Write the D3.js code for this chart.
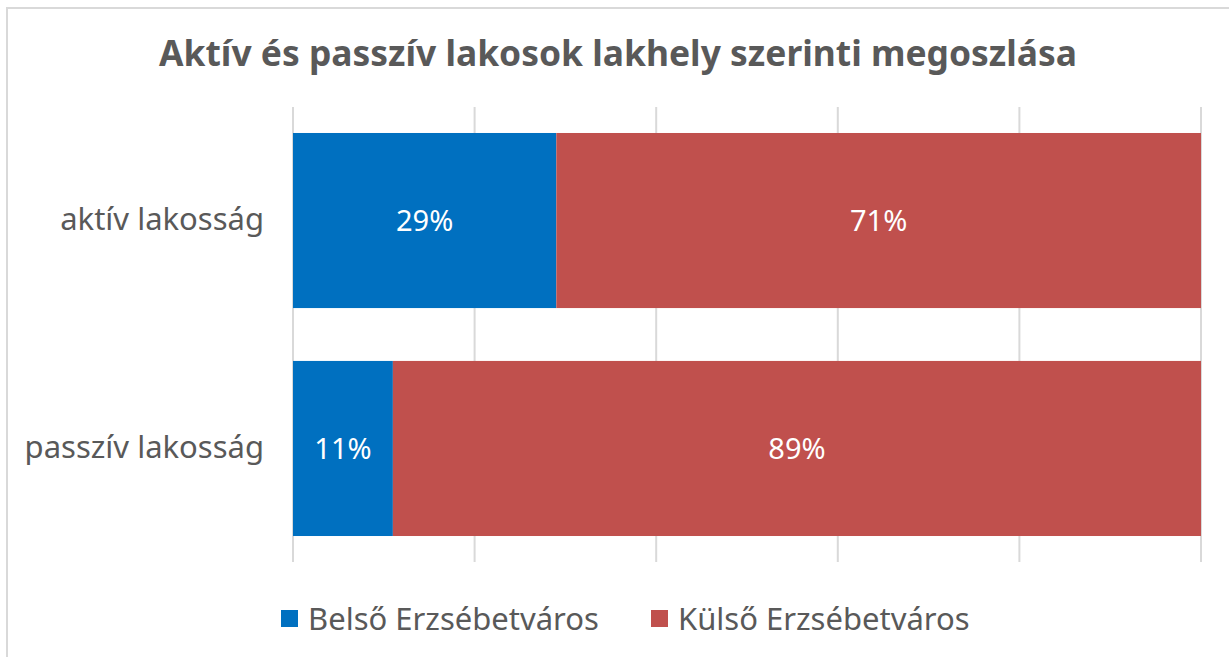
<!DOCTYPE html>
<html>
<head>
<meta charset="utf-8">
<script src="https://cdn.jsdelivr.net/npm/d3@7"></script>
<style>
  body { margin: 0; background: #fff; }
  svg { display: block; font-family: "Noto Sans", "Open Sans", sans-serif; }
</style>
</head>
<body>
<div id="chart"></div>
<script>
const title = "Aktív és passzív lakosok lakhely szerinti megoszlása";
const categories = ["aktív lakosság", "passzív lakosság"];
const seriesNames = ["Belső Erzsébetváros", "Külső Erzsébetváros"];
const belso = [29, 11];
const kulso = [71, 89];
const xTicks = [0, 20, 40, 60, 80, 100];

const colors = ["#0070c0", "#c0504d"];
const W = 1229, H = 657;
const margin = { top: 107, right: 28, bottom: 95, left: 293 };
const width = W - margin.left - margin.right;
const height = H - margin.top - margin.bottom;

const svg = d3.select("#chart").append("svg")
    .attr("width", W)
    .attr("height", H);

// chart frame (right/bottom edges fall outside the window)
svg.append("rect")
    .attr("x", 7).attr("y", 8)
    .attr("width", W + 10).attr("height", H + 10)
    .attr("fill", "#fff")
    .attr("stroke", "#d9d9d9")
    .attr("stroke-width", 2);

svg.append("text")
    .attr("x", 618).attr("y", 66)
    .attr("text-anchor", "middle")
    .attr("font-size", 35.4)
    .attr("font-weight", "bold")
    .attr("fill", "#595959")
    .text(title);

const g = svg.append("g")
    .attr("transform", `translate(${margin.left}, ${margin.top})`);

const x = d3.scaleLinear().domain([0, 100]).range([0, width]);
const y = d3.scaleBand().domain(categories).range([0, height]).paddingInner(0.232).paddingOuter(0.114);

// gridlines
g.selectAll(".grid")
    .data(xTicks)
    .enter().append("line")
    .attr("x1", d => x(d)).attr("x2", d => x(d))
    .attr("y1", 0).attr("y2", height)
    .attr("stroke", "#d9d9d9")
    .attr("stroke-width", 2);

const data = categories.map((c, i) => ({ cat: c, belso: belso[i], kulso: kulso[i] }));
const stacked = d3.stack().keys(["belso", "kulso"])(data);

stacked.forEach((layer, li) => {
    const lg = g.append("g");
    lg.selectAll("rect")
        .data(layer)
        .enter().append("rect")
        .attr("x", d => x(d[0]))
        .attr("y", d => y(d.data.cat))
        .attr("width", d => x(d[1]) - x(d[0]))
        .attr("height", y.bandwidth())
        .attr("fill", colors[li]);
    lg.selectAll("text")
        .data(layer)
        .enter().append("text")
        .attr("x", d => x((d[0] + d[1]) / 2))
        .attr("y", d => y(d.data.cat) + y.bandwidth() / 2)
        .attr("dy", "0.35em")
        .attr("text-anchor", "middle")
        .attr("font-size", 29)
        .attr("fill", "#fff")
        .text(d => (d[1] - d[0]) + "%");
});

// category labels
g.append("g")
    .call(d3.axisLeft(y).tickSize(0).tickPadding(29))
    .call(a => a.select(".domain").remove())
    .selectAll("text")
    .attr("font-size", 31)
    .attr("font-family", "\"Noto Sans\", sans-serif")
    .attr("fill", "#595959");

// legend
const legendX = [281, 651];
const legend = svg.append("g");
seriesNames.forEach((name, i) => {
    legend.append("rect")
        .attr("x", legendX[i]).attr("y", 610)
        .attr("width", 17).attr("height", 17)
        .attr("fill", colors[i]);
    legend.append("text")
        .attr("x", legendX[i] + 27).attr("y", 619)
        .attr("dy", "0.35em")
        .attr("font-size", 31)
        .attr("fill", "#595959")
        .text(name);
});
</script>
</body>
</html>
